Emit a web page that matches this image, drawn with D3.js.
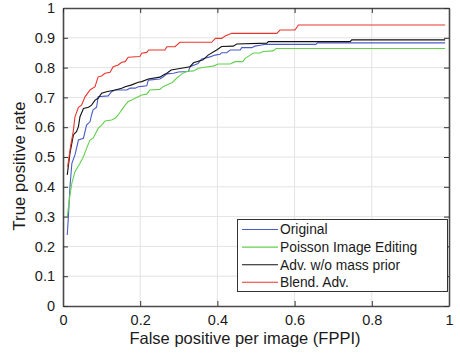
<!DOCTYPE html>
<html>
<head>
<meta charset="utf-8">
<script src="https://cdn.jsdelivr.net/npm/d3@7"></script>
<style>
  html, body { margin: 0; padding: 0; background: #fff; }
  svg { display: block; font-family: "Liberation Sans", Arial, sans-serif; }
</style>
</head>
<body>
<svg id="chart" width="460" height="356"></svg>
<script>
// ---- data ----
const seriesNames = ["Original", "Poisson Image Editing", "Adv. w/o mass prior", "Blend. Adv."];
const seriesColors = ["#4a5cc8", "#62d04c", "#111111", "#e8362c"];

const originalX = [0.011,0.014,0.018,0.023,0.031,0.040,0.053,0.061,0.070,0.074,0.078,0.087,0.091,0.117,0.126,0.135,0.165,0.174,0.187,0.195,0.204,0.217,0.221,0.251,0.260,0.269,0.286,0.299,0.325,0.329,0.350,0.359,0.381,0.394,0.407,0.411,0.424,0.433,0.459,0.463,0.489,0.497,0.515,0.523,0.655,0.659,0.990];
const originalY = [0.238,0.300,0.400,0.479,0.507,0.557,0.563,0.607,0.618,0.641,0.658,0.667,0.702,0.705,0.719,0.725,0.725,0.731,0.731,0.736,0.737,0.739,0.758,0.762,0.769,0.779,0.781,0.785,0.787,0.803,0.814,0.829,0.836,0.842,0.845,0.850,0.850,0.859,0.859,0.867,0.867,0.872,0.876,0.878,0.878,0.883,0.883];

const poissonX = [0.011,0.018,0.023,0.031,0.044,0.053,0.061,0.070,0.078,0.091,0.100,0.109,0.126,0.135,0.143,0.152,0.161,0.169,0.178,0.187,0.195,0.204,0.217,0.225,0.251,0.260,0.269,0.282,0.295,0.308,0.320,0.338,0.351,0.376,0.389,0.402,0.433,0.446,0.466,0.472,0.484,0.493,0.510,0.519,0.544,0.552,0.990];
const poissonY = [0.300,0.372,0.412,0.451,0.479,0.501,0.529,0.557,0.563,0.596,0.607,0.621,0.624,0.630,0.641,0.658,0.674,0.686,0.691,0.697,0.702,0.708,0.711,0.725,0.727,0.737,0.742,0.749,0.765,0.779,0.787,0.789,0.798,0.803,0.805,0.812,0.812,0.820,0.820,0.831,0.841,0.849,0.849,0.854,0.856,0.864,0.864];

const advX = [0.011,0.018,0.027,0.031,0.035,0.040,0.044,0.053,0.066,0.074,0.083,0.091,0.100,0.113,0.135,0.152,0.161,0.178,0.195,0.204,0.221,0.251,0.260,0.269,0.280,0.299,0.329,0.338,0.363,0.376,0.398,0.411,0.441,0.450,0.528,0.532,0.744,0.748,0.990];
const advY = [0.440,0.512,0.574,0.580,0.585,0.602,0.635,0.663,0.667,0.674,0.691,0.697,0.714,0.719,0.725,0.731,0.736,0.742,0.751,0.753,0.762,0.768,0.775,0.781,0.792,0.796,0.803,0.816,0.826,0.842,0.859,0.871,0.872,0.879,0.882,0.887,0.887,0.893,0.893];

const blendX = [0.012,0.020,0.025,0.027,0.031,0.040,0.048,0.057,0.070,0.083,0.091,0.100,0.109,0.122,0.130,0.143,0.152,0.161,0.169,0.199,0.204,0.217,0.222,0.264,0.269,0.290,0.303,0.385,0.395,0.411,0.420,0.437,0.554,0.562,0.601,0.610,0.990];
const blendY = [0.467,0.540,0.574,0.590,0.635,0.667,0.674,0.702,0.725,0.736,0.769,0.772,0.781,0.784,0.803,0.809,0.818,0.820,0.835,0.837,0.848,0.851,0.859,0.859,0.870,0.870,0.885,0.885,0.898,0.898,0.906,0.915,0.915,0.926,0.926,0.943,0.943];

const xTicks = [0, 0.2, 0.4, 0.6, 0.8, 1];
const yTicks = [0, 0.1, 0.2, 0.3, 0.4, 0.5, 0.6, 0.7, 0.8, 0.9, 1];
const xLabel = "False positive per image (FPPI)";
const yLabel = "True positive rate";

const series = [
  {name: seriesNames[0], color: seriesColors[0], xs: originalX, ys: originalY},
  {name: seriesNames[1], color: seriesColors[1], xs: poissonX, ys: poissonY},
  {name: seriesNames[2], color: seriesColors[2], xs: advX, ys: advY},
  {name: seriesNames[3], color: seriesColors[3], xs: blendX, ys: blendY}
];

// ---- layout ----
const W = 460, H = 356;
const m = {left: 63, right: 11, top: 8, bottom: 50};
const svg = d3.select("#chart");
const x = d3.scaleLinear().domain([0, 1]).range([m.left, W - m.right]);
const y = d3.scaleLinear().domain([0, 1]).range([H - m.bottom, m.top]);
const fmt = d => (d === 0 || d === 1) ? String(d) : d3.format(".1f")(d);

// grid
const grid = svg.append("g").attr("stroke", "#e3e3e3").attr("stroke-width", 1);
xTicks.slice(1, -1).forEach(t => grid.append("line").attr("x1", x(t)).attr("x2", x(t)).attr("y1", y(0)).attr("y2", y(1)));
yTicks.slice(1, -1).forEach(t => grid.append("line").attr("x1", x(0)).attr("x2", x(1)).attr("y1", y(t)).attr("y2", y(t)));

// lines
const line = d3.line().x(d => x(d[0])).y(d => y(d[1]));
const lines = svg.append("g").attr("fill", "none").attr("stroke-width", 1.1);
series.forEach(s => {
  const pts = s.xs.map((v, i) => [v, s.ys[i]]);
  lines.append("path").attr("d", line(pts)).attr("stroke", s.color);
});

// axes
const tickFont = "14.5px";
const axB = svg.append("g").attr("transform", `translate(0,${y(0)})`)
  .call(d3.axisBottom(x).tickValues(xTicks).tickFormat(fmt).tickSizeInner(-5).tickSizeOuter(0).tickPadding(8.5));
const axL = svg.append("g").attr("transform", `translate(${x(0)},0)`)
  .call(d3.axisLeft(y).tickValues(yTicks).tickFormat(fmt).tickSizeInner(-5).tickSizeOuter(0).tickPadding(8));
const axT = svg.append("g").attr("transform", `translate(0,${y(1)})`)
  .call(d3.axisTop(x).tickValues(xTicks).tickFormat("").tickSizeInner(-5).tickSizeOuter(0));
const axR = svg.append("g").attr("transform", `translate(${x(1)},0)`)
  .call(d3.axisRight(y).tickValues(yTicks).tickFormat("").tickSizeInner(-5).tickSizeOuter(0));
[axB, axL, axT, axR].forEach(a => {
  a.select(".domain").attr("stroke", "#4a4a4a").attr("stroke-width", 1.6);
  a.selectAll(".tick line").attr("stroke", "#333").attr("stroke-width", 1);
  a.selectAll("text").attr("font-size", tickFont).attr("fill", "#1a1a1a")
    .attr("font-family", "'Liberation Sans', Arial, sans-serif");
});

// axis labels
svg.append("text").attr("x", (x(0) + x(1)) / 2 - 11).attr("y", 343.5)
  .attr("text-anchor", "middle").attr("font-size", "16.5px").attr("fill", "#1a1a1a").text(xLabel);
svg.append("text").attr("transform", `translate(25,${(y(0) + y(1)) / 2 + 9}) rotate(-90)`)
  .attr("text-anchor", "middle").attr("font-size", "16.8px").attr("fill", "#1a1a1a").text(yLabel);

// legend
const lg = svg.append("g");
lg.append("rect").attr("x", 237.5).attr("y", 219.5).attr("width", 210).attr("height", 72)
  .attr("fill", "#fff").attr("stroke", "#333").attr("stroke-width", 1);
series.forEach((s, i) => {
  const cy = 229.5 + i * 17.6;
  lg.append("line").attr("x1", 242).attr("x2", 278).attr("y1", cy).attr("y2", cy)
    .attr("stroke", s.color).attr("stroke-width", 1.1);
  lg.append("text").attr("x", 280).attr("y", cy).attr("dy", "0.35em")
    .attr("font-size", "13.8px").attr("fill", "#1a1a1a").text(s.name);
});
</script>
</body>
</html>
